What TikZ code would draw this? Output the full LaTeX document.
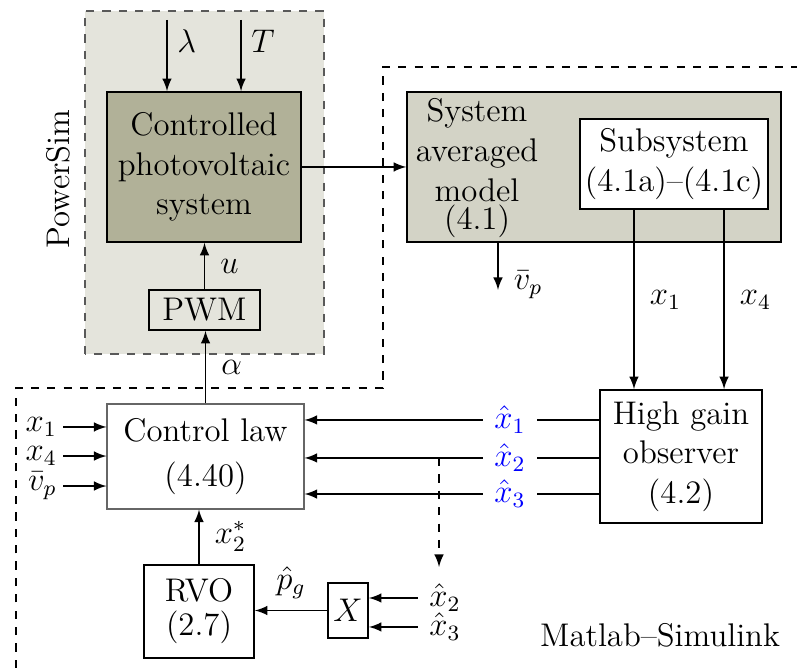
\documentclass[12pt,tikz,border=0pt]{standalone}
\usetikzlibrary{calc}
\definecolor{psback}{RGB}{228,228,220}
\definecolor{pvfill}{RGB}{177,177,152}
\definecolor{samfill}{RGB}{211,211,198}
\begin{document}
\begin{tikzpicture}[>=latex,line width=0.6pt,
  box/.style={draw,rectangle,inner sep=0pt,align=center},
  lbl/.style={inner sep=2pt}]
\useasboundingbox (0,0) rectangle (10.257,8.597);
%
% --- PowerSim-Bereich ---
\draw[dashed,gray!70!black,line width=0.5pt,fill=psback] (1.094,4.041) rectangle (4.170,8.456);
\node[rotate=90] (powersim) at (0.746,6.293) {PowerSim};
\node[box,fill=pvfill,minimum width=2.497cm,minimum height=1.93cm] (pv) at (2.625,6.448)
  {Controlled\\photovoltaic\\system};
\node[box,minimum width=1.429cm,minimum height=0.515cm] (pwm) at (2.632,4.607) {PWM};
% Eingaenge lambda und T
\coordinate (lam) at (2.149,8.340);
\coordinate (temp) at (3.102,8.340);
\draw[->] (lam) -- (lam |- pv.north) node[pos=0.3,right=-0.5pt] (lamlbl) {$\lambda$};
\draw[->] (temp) -- (temp |- pv.north) node[pos=0.3,right=-0.5pt] (templbl) {$T$};
\draw[->] (pwm.north) -- (pwm.north |- pv.south) node[midway,right=1.5pt] (ulbl) {$u$};
%
% --- Matlab-Bereich ---
\draw[dashed] (0.206,0) -- (0.206,3.604) -- (4.929,3.604) -- (4.929,7.735) -- (10.257,7.735);
\node (matlab) at (8.494,0.425) {Matlab--Simulink};
% gemitteltes Modell mit Teilsystem
\node[box,fill=samfill,minimum width=4.813cm,minimum height=1.93cm] (sam) at (7.645,6.448) {};
\node[align=center,inner sep=0pt] (samtxt) at (6.139,6.43) {System\\averaged\\model\\[-4pt](4.1)};
\node[box,fill=white,minimum width=2.42cm,minimum height=1.158cm] (sub) at (8.674,6.486)
  {Subsystem\\(4.1a)--(4.1c)};
\draw[->] (pv) -- (sam);
\coordinate (vp) at (6.409,4.865);
\draw[->] (vp |- sam.south) -- (vp) node[right=1.5pt,yshift=2pt] (vplbl) {$\bar{v}_p$};
% Beobachter
\node[box,minimum width=2.085cm,minimum height=1.712cm] (hgo) at (8.764,2.722)
  {High gain\\observer\\(4.2)};
\draw[->] ([xshift=-0.515cm]sub.south) -- ([xshift=-0.515cm]sub.south |- hgo.north)
  node[midway,right=1.5pt] (x1lbl) {$x_1$};
\draw[->] ([xshift=0.644cm]sub.south) -- ([xshift=0.644cm]sub.south |- hgo.north)
  node[midway,right=1.5pt] (x4lbl) {$x_4$};
% Regelgesetz
\node[box,draw=gray!80!black,line width=0.4pt,minimum width=2.535cm,minimum height=1.351cm]
  (cl) at (2.645,2.722) {Control law\\[2pt](4.40)};
\draw[->] (cl.north) -- (cl.north |- pwm.south) node[midway,right=1.5pt] (alphalbl) {$\alpha$};
% geschaetzte Zustaende
\node[blue] (xh1) at (6.564,3.192) {$\hat{x}_1$};
\node[blue] (xh2) at (6.564,2.703) {$\hat{x}_2$};
\node[blue] (xh3) at (6.564,2.239) {$\hat{x}_3$};
\foreach \n in {xh1,xh2,xh3} {
  \draw (hgo.west |- \n) -- (\n);
  \draw[->] (\n) -- (\n -| cl.east);
}
% Eingaenge links
\node[anchor=east,lbl] (in1) at (0.811,3.102) {$x_1$};
\node[anchor=east,lbl] (in2) at (0.811,2.728) {$x_4$};
\node[anchor=east,lbl] (in3) at (0.811,2.342) {$\bar{v}_p$};
\foreach \n in {in1,in2,in3}
  \draw[->] (\n) -- (\n -| cl.west);
% Abzweig zu x2, x3
\coordinate (tap) at (5.650,2.703);
\coordinate (tapend) at (5.650,1.300);
\draw[dashed,->] (tap) -- (tapend);
% RVO und Produkt
\node[box,minimum width=0.515cm,minimum height=0.708cm] (mult) at (4.479,0.740) {$X$};
\node[box,minimum width=1.416cm,minimum height=1.197cm] (rvo) at (2.561,0.727) {RVO\\[-2pt](2.7)};
\node (lx2) at (5.727,0.901) {$\hat{x}_2$};
\node (lx3) at (5.727,0.528) {$\hat{x}_3$};
\draw[->] (lx2) -- (lx2 -| mult.east);
\draw[->] (lx3) -- (lx3 -| mult.east);
\draw[->] (mult) -- (mult -| rvo.east) node[midway,above] (pglbl) {$\hat{p}_g$};
\draw[->] (rvo.north) -- (rvo.north |- cl.south) node[midway,right=1.5pt] (x2lbl) {$x_2^*$};
\end{tikzpicture}
\end{document}
